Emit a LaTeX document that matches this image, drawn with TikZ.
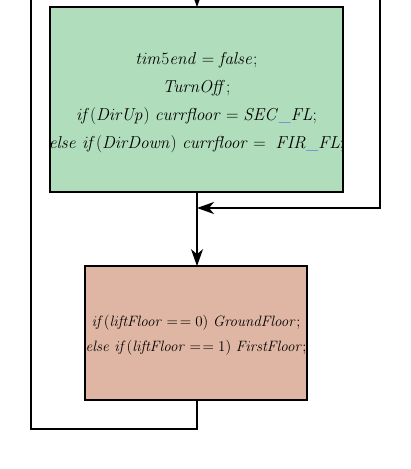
\RequirePackage{fix-cm}
\documentclass[tikz,border=0pt]{standalone}
\usetikzlibrary{arrows.meta}
\definecolor{boxgreen}{RGB}{176,221,187}
\definecolor{boxbrown}{RGB}{223,182,163}
\begin{document}
\begin{tikzpicture}[x=1pt,y=-1pt,
  line width=1.7pt,
  arr/.style={-{Stealth[length=17pt,width=12pt,inset=5pt]}},
  greenbox/.style={fill=boxgreen,minimum width=291pt,minimum height=183pt,inner sep=0pt},
  brownbox/.style={fill=boxbrown,minimum width=220pt,minimum height=132pt,inner sep=0pt},
  gtext/.style={align=center,font=\fontsize{17.28}{28}\selectfont},
  btext/.style={align=center,font=\fontsize{15}{25}\selectfont}]
\useasboundingbox (0,0) rectangle (411,469);
% boxes
\node[greenbox] (g) at (196.5,99.5) {};
\node[brownbox] (b) at (196,333) {};
\begin{scope}
\clip (g.north west) rectangle (g.south east);
\node[gtext] (gt) at ([yshift=-3pt]g.center) {$\mathit{tim}5\mathit{end = false;}$\\ $\mathit{TurnOff;}$\\ $\mathit{if(DirUp)\ currfloor = SEC{\color{blue}\_}FL;}$\\ $\mathit{else\ if(DirDown)\ currfloor = \ FIR{\color{blue}\_}FL;}$};
\end{scope}
\begin{scope}
\clip (b.north west) rectangle (b.south east);
\node[btext] (bt) at ([yshift=-2pt]b.center) {$\mathit{if(liftFloor} =\mkern2mu= 0)\ \mathit{GroundFloor};$\\ $\mathit{else\ if(liftFloor} =\mkern2mu= 1)\ \mathit{FirstFloor};$};
\end{scope}
\draw (g.north west) rectangle (g.south east);
\draw (b.north west) rectangle (b.south east);
% connectors
\coordinate (top) at (197,0);
\coordinate (rtop) at (380,0);
\coordinate (rjoin) at (380,208);
\coordinate (ltop) at (31,0);
\coordinate (lbot) at (31,429);
\coordinate (bbot) at (197,429);
\draw[arr] (top) -- (g.north -| top);
\draw[arr] (g.south -| top) -- (b.north -| top);
\draw[arr] (rtop) -- (rjoin) -- (rjoin -| top);
\draw (b.south -| top) -- (bbot) -- (lbot) -- (ltop);
\end{tikzpicture}
\end{document}
